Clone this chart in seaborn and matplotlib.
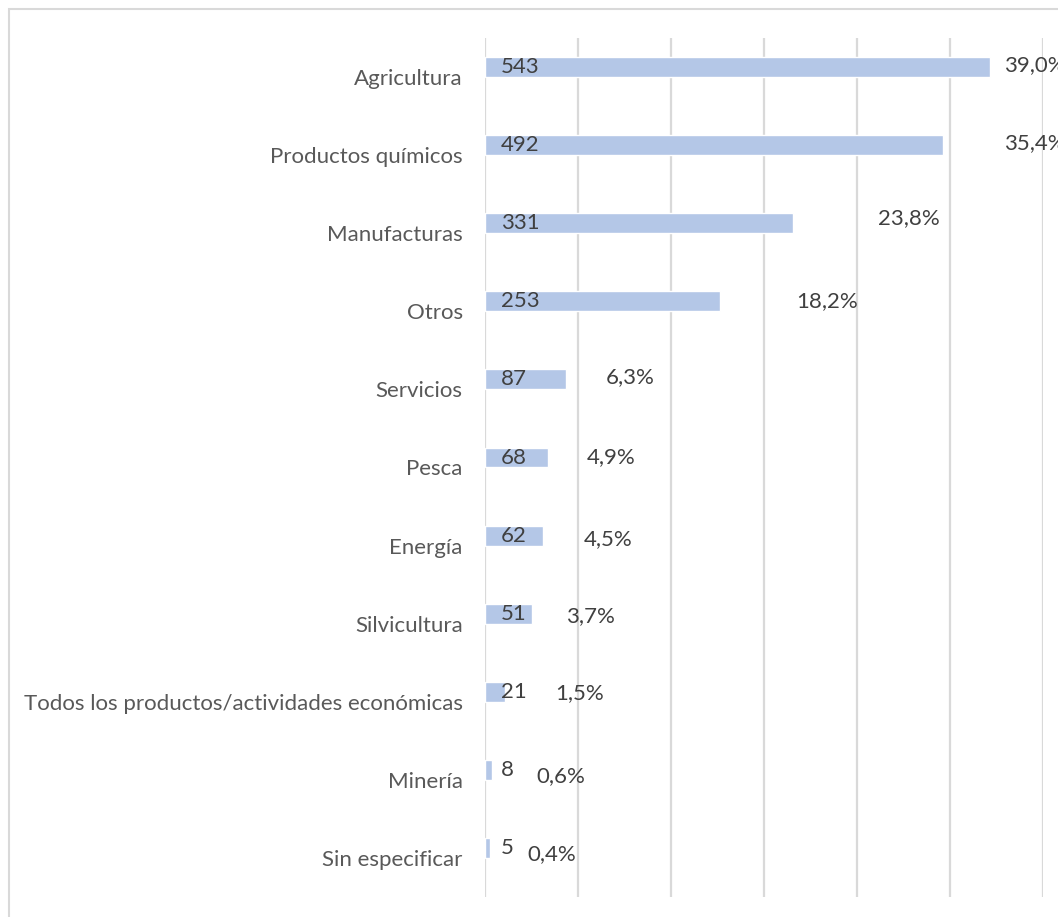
import pandas as pd
import matplotlib
matplotlib.use("Agg")
import matplotlib.pyplot as plt
import seaborn as sns

# Data
categories = [
    "Agricultura",
    "Productos químicos",
    "Manufacturas",
    "Otros",
    "Servicios",
    "Pesca",
    "Energía",
    "Silvicultura",
    "Todos los productos/actividades económicas",
    "Minería",
    "Sin especificar",
]
counts = [543, 492, 331, 253, 87, 68, 62, 51, 21, 8, 5]
pct_labels = ["39,0%", "35,4%", "23,8%", "18,2%", "6,3%", "4,9%",
              "4,5%", "3,7%", "1,5%", "0,6%", "0,4%"]

# Layout: offsets (px) of each percent label from its bar end, as placed by hand in the original
pct_label_dx = [14, 61, 85, 76, 40, 39, 41, 34, 51, 44, 38]
pct_label_dy = [2, 2, 5, 0, 2, 0, -3, -2, -1, -6, -6]

BAR_COLOR = "#b4c7e7"
GRID_COLOR = "#d9d9d9"
LABEL_COLOR = "#595959"
VALUE_COLOR = "#404040"
FS = 16

sns.set_style("white")
plt.rcParams["font.family"] = ["Lato", "DejaVu Sans"]

df = pd.DataFrame({"categoria": categories, "n": counts})

fig = plt.figure(figsize=(10.58, 9.17), dpi=100)
ax = fig.add_axes([485 / 1058, 1 - 897 / 917, (1043 - 485) / 1058, (897 - 38) / 917])

bar_h = 0.256
sns.barplot(data=df, x="n", y="categoria", color=BAR_COLOR, width=bar_h,
            saturation=1, ax=ax)

# the bars sit in the upper half of each slot (second, hidden series below)
for p in ax.patches:
    p.set_y(p.get_y() - bar_h / 2)

ax.set_xlim(0, 600)
ax.set_ylim(len(categories) - 0.5, -0.5)
ax.set_xticks(range(0, 601, 100))
ax.xaxis.grid(True, color=GRID_COLOR, linewidth=1.6)
ax.set_axisbelow(True)
ax.tick_params(axis="x", bottom=False, labelbottom=False)
ax.tick_params(axis="y", length=0, pad=16, labelsize=FS, labelcolor=LABEL_COLOR)
ax.set_xlabel("")
ax.set_ylabel("")
sns.despine(ax=ax, left=True, bottom=True)

for i, (n, lab) in enumerate(zip(counts, pct_labels)):
    yc = i - bar_h / 2
    ax.annotate(str(n), xy=(0, yc), xytext=(16, 0), textcoords="offset pixels",
                ha="left", va="center", fontsize=FS, color=VALUE_COLOR)
    ax.annotate(lab, xy=(n, yc), xytext=(pct_label_dx[i], pct_label_dy[i]),
                textcoords="offset pixels", ha="left", va="center",
                fontsize=FS, color=VALUE_COLOR, annotation_clip=False)

# chart frame (cut off at the right and bottom in the original)
fig.add_artist(plt.Rectangle((9 / 1058, -0.1), 1.2, 1 - 9 / 917 + 0.1,
                             transform=fig.transFigure, fill=False,
                             edgecolor=GRID_COLOR, linewidth=1.5))

fig.savefig("out.png", dpi=100)
